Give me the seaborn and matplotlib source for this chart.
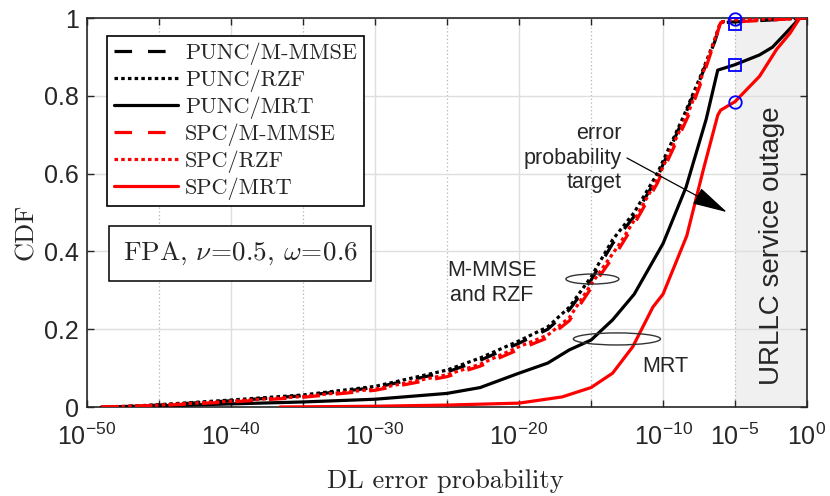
import numpy as np
import seaborn as sns
import matplotlib
matplotlib.use("Agg")
from matplotlib import pyplot as plt
from matplotlib.patches import Ellipse

# log10 of the DL error probability and the CDF
punc_mmse_exp = [-48, -45, -40, -35, -30, -25, -22.7, -20, -18, -16.5, -15, -13.5, -12, -10.4, -8.6, -7.4, -6.4, -6.0, -5, -2, 0]
punc_mmse_cdf = [0, 0.005, 0.016, 0.029, 0.05, 0.09, 0.12, 0.164, 0.2, 0.25, 0.326, 0.42, 0.49, 0.59, 0.74, 0.845, 0.94, 0.988, 0.99, 0.996, 1.0]

punc_rzf_exp = [-48, -45, -40, -35, -30, -25, -22.7, -20, -18, -16.5, -15, -13.5, -12, -10.4, -8.6, -7.4, -6.4, -6.0, -5, -2, 0]
punc_rzf_cdf = [0, 0.006, 0.018, 0.031, 0.053, 0.095, 0.126, 0.17, 0.206, 0.257, 0.334, 0.43, 0.5, 0.60, 0.745, 0.85, 0.945, 0.99, 0.993, 0.997, 1.0]

punc_mrt_exp = [-49, -45, -40, -35, -30, -25, -22.7, -20, -18, -16.5, -15, -13.5, -12, -10, -8.4, -7, -6.2, -5, -3.3, -2.4, -1.5, -0.5, 0]
punc_mrt_cdf = [0, 0.003, 0.008, 0.013, 0.02, 0.035, 0.05, 0.087, 0.113, 0.147, 0.172, 0.224, 0.29, 0.42, 0.565, 0.74, 0.866, 0.88, 0.905, 0.925, 0.96, 1.0, 1.0]

spc_mmse_exp = [-49, -45, -40, -35, -30, -25, -22.7, -20, -18, -16.5, -15, -13, -12, -10.4, -8.1, -7.4, -6.5, -6.0, -5, -2, 0]
spc_mmse_cdf = [0, 0.004, 0.013, 0.025, 0.043, 0.078, 0.105, 0.148, 0.178, 0.222, 0.305, 0.41, 0.47, 0.575, 0.76, 0.83, 0.93, 0.988, 0.99, 0.996, 1.0]

spc_rzf_exp = [-49, -45, -40, -35, -30, -25, -22.7, -20, -18, -16.5, -15, -13, -12, -10.4, -8.1, -7.4, -6.5, -6.0, -5, -2, 0]
spc_rzf_cdf = [0, 0.005, 0.015, 0.027, 0.046, 0.083, 0.11, 0.155, 0.185, 0.23, 0.315, 0.42, 0.48, 0.585, 0.77, 0.84, 0.935, 0.99, 0.995, 0.998, 1.0]

spc_mrt_exp = [-36.6, -30, -25, -20, -17, -15, -13.5, -12.1, -10.7, -10, -8.35, -7.2, -6.2, -6.0, -5, -3.3, -2.1, -1.2, -0.5, 0]
spc_mrt_cdf = [0, 0.002, 0.005, 0.01, 0.026, 0.05, 0.087, 0.155, 0.257, 0.29, 0.44, 0.61, 0.75, 0.763, 0.785, 0.85, 0.92, 0.96, 1.0, 1.0]

# outage points at the 1e-5 target
target_exp = -5
punc_target_cdf = [0.985, 0.88]
spc_target_cdf = [0.997, 0.785]

x_major = [-50, -40, -30, -20, -10, 0]
x_minor = [-45, -35, -25, -15, -5]
y_ticks = [0, 0.2, 0.4, 0.6, 0.8, 1]
y_labels = ["0", "0.2", "0.4", "0.6", "0.8", "1"]

sns.set_style("ticks")
plt.rcParams["font.family"] = ["Liberation Sans", "DejaVu Sans"]
plt.rcParams["mathtext.fontset"] = "custom"
plt.rcParams["mathtext.rm"] = "Liberation Sans"
plt.rcParams["mathtext.it"] = "Liberation Sans:italic"
plt.rcParams["mathtext.bf"] = "Liberation Sans:bold"

fig = plt.figure(figsize=(8.3, 4.96), dpi=100)
ax = fig.add_axes([0.1048, 0.1794, 0.8675, 0.7843])
ax.set_xscale("log")

dashed = (0, (5.5, 5))
dotted = (0, (1.1, 1.0))
series = [
    ("PUNC/M-MMSE", punc_mmse_exp, punc_mmse_cdf, "black", dashed),
    ("PUNC/RZF", punc_rzf_exp, punc_rzf_cdf, "black", dotted),
    ("PUNC/MRT", punc_mrt_exp, punc_mrt_cdf, "black", "-"),
    ("SPC/M-MMSE", spc_mmse_exp, spc_mmse_cdf, "red", dashed),
    ("SPC/RZF", spc_rzf_exp, spc_rzf_cdf, "red", dotted),
    ("SPC/MRT", spc_mrt_exp, spc_mrt_cdf, "red", "-"),
]
for label, e, c, col, ls in series:
    sns.lineplot(x=10.0 ** np.array(e), y=c, ax=ax, color=col, linewidth=2.3,
                 linestyle=ls, label=label, estimator=None, sort=False, zorder=3)

ax.plot([10.0 ** target_exp] * 2, punc_target_cdf, ls="none", marker="s", ms=8,
        mfc="none", mec="blue", mew=1.3, zorder=4, clip_on=False)
ax.plot([10.0 ** target_exp] * 2, spc_target_cdf, ls="none", marker="o", ms=9,
        mfc="none", mec="blue", mew=1.3, zorder=4, clip_on=False)

# outage region
ax.axvspan(10.0 ** target_exp, 1, color="#f0f0f0", zorder=0, lw=0)

ax.set_xlim(1e-50, 1)
ax.set_ylim(0, 1)
ax.set_xticks([10.0 ** v for v in x_major],
              labels=[r"$\mathregular{10^{%d}}$" % v for v in x_major])
ax.set_xticks([10.0 ** v for v in x_minor],
              labels=[""] * 4 + [r"$\mathregular{10^{-5}}$"], minor=True)
ax.set_yticks(y_ticks, labels=y_labels)
ax.tick_params(which="both", direction="in", top=True, right=True, length=5,
               width=1, color="#262626", labelsize=18, pad=6)
ax.tick_params(axis="x", which="both", pad=12)
ax.grid(which="major", color="#dedede", lw=1, ls="-")
ax.grid(which="minor", axis="x", color="#b5b5b5", lw=0.9, ls=(0, (1, 2)))
for s in ax.spines.values():
    s.set_color("#262626")
    s.set_linewidth(1.2)

ax.set_xlabel("DL error probability", family="cmr10", fontsize=19)
ax.set_ylabel("CDF", family="cmr10", fontsize=19)
ax.xaxis.set_label_coords(0.497, -0.16)
ax.yaxis.set_label_coords(-0.068, 0.45)

leg = ax.legend(loc="upper left", bbox_to_anchor=(0.028, 0.954), borderaxespad=0,
                prop={"family": "cmr10", "size": 16}, frameon=True, fancybox=False,
                framealpha=1, edgecolor="black", handlelength=2.9,
                handletextpad=0.3, borderpad=0.3, labelspacing=0.2)
leg.get_frame().set_linewidth(1.2)
leg.set_zorder(6)

ax.text(0.213, 0.395, r"FPA, $\nu\!=\!0.5$, $\omega\!=\!0.6$", transform=ax.transAxes,
        ha="center", va="center", family="cmr10", fontsize=19.5, math_fontfamily="cm",
        bbox=dict(boxstyle="square,pad=0.5", fc="white", ec="black", lw=1.1), zorder=6)

ax.text(10.0 ** -21.9, 0.319, "M-MMSE\nand RZF", ha="center", va="center",
        fontsize=15.5, linespacing=1.2, zorder=5)
ax.text(10.0 ** -9.86, 0.103, "MRT", ha="center", va="center", fontsize=15.5, zorder=5)
ax.text(10.0 ** -12.9, 0.64, "error\nprobability\ntarget", ha="right", va="center",
        ma="right", fontsize=15.5, linespacing=1.2, zorder=5)
ax.annotate("", xy=(10.0 ** -5.56, 0.501), xytext=(10.0 ** -12.5, 0.64),
            arrowprops=dict(arrowstyle="-|>,head_length=1.1,head_width=0.28",
                            mutation_scale=20, lw=0.9, color="black",
                            shrinkA=0, shrinkB=0), zorder=5)
ax.text(10.0 ** -2.43, 0.414, "URLLC service outage", rotation=90, ha="center",
        va="center", fontsize=20, zorder=5)

ax.add_patch(Ellipse((0.702, 0.329), 0.0736, 0.0257, transform=ax.transAxes,
                     fill=False, ec="#333333", lw=1, zorder=5))
ax.add_patch(Ellipse((0.736, 0.175), 0.121, 0.031, transform=ax.transAxes,
                     fill=False, ec="#333333", lw=1, zorder=5))

fig.savefig("out.png", dpi=100)
